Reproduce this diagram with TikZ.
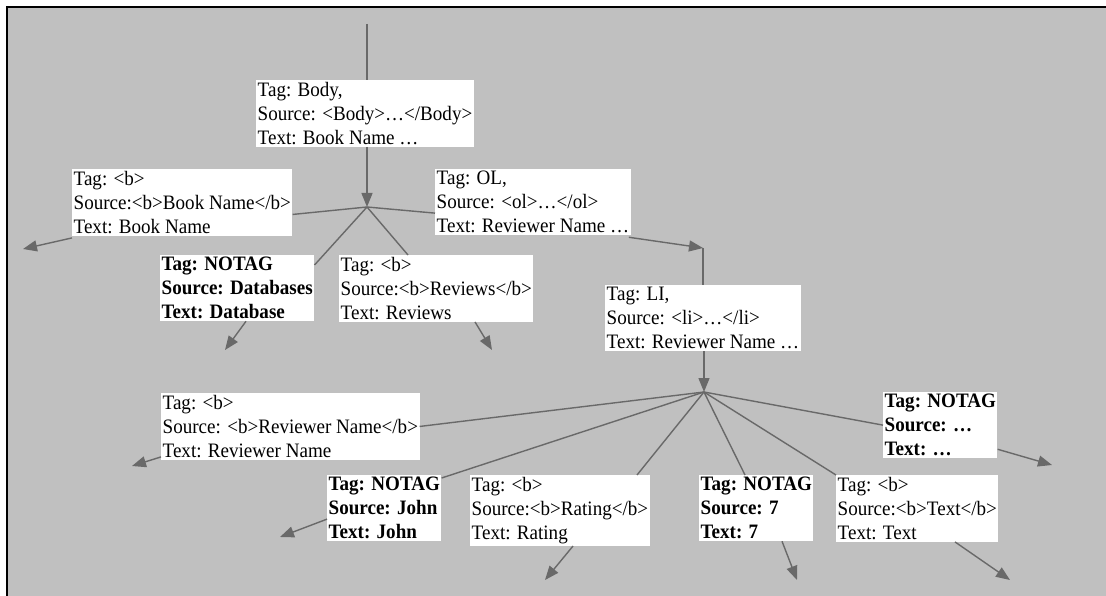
\documentclass[tikz,border=0pt]{standalone}
\usepackage{fontspec}
\setmainfont[FakeStretch=0.93]{Liberation Serif}
\usetikzlibrary{arrows.meta}
\definecolor{bggray}{RGB}{192,192,192}
\definecolor{edgegray}{RGB}{105,105,105}

\begin{document}
\begin{tikzpicture}[x=1pt, y=-1pt, >={Triangle[length=14pt,width=11pt]},
    tagbox/.style={fill=white, anchor=north west, align=left, inner xsep=1.5pt,
        inner ysep=2pt, font=\fontsize{20.5}{24}\selectfont},
    notag/.style={tagbox, font=\fontsize{20.5}{24}\selectfont\bfseries},
    link/.style={draw=edgegray, line width=1.4pt}]

    % frame
    \useasboundingbox (0,0) rectangle (1106,596);
    \fill[bggray] (7,7) rectangle (1106,596);
    \draw[line width=1.5pt] (7,596) -- (7,7) -- (1106,7);

    % junctions and open ends
    \coordinate (top) at (367,24);
    \coordinate (j1) at (367,207);
    \coordinate (j2) at (703,248);
    \coordinate (j3) at (704,392);

    % boxes
    \node[tagbox] (body) at (256,80) {Tag: Body,\\Source: <Body>…</Body>\\Text: Book Name …};
    \node[tagbox] (bname) at (72,169) {Tag: <b>\\Source:<b>Book Name</b>\\Text: Book Name};
    \node[tagbox] (ol) at (435,169) {Tag: OL,\\Source: <ol>…</ol>\\Text: Reviewer Name …};
    \node[notag] (db) at (160,255) {Tag: NOTAG\\Source: Databases\\Text: Database};
    \node[tagbox] (rev) at (339,255) {Tag: <b>\\Source:<b>Reviews</b>\\Text: Reviews};
    \node[tagbox] (li) at (605,285) {Tag: LI,\\Source: <li>…</li>\\Text: Reviewer Name …};
    \node[tagbox] (rname) at (161,393) {Tag: <b>\\Source: <b>Reviewer Name</b>\\Text: Reviewer Name};
    \node[notag] (dots) at (883,392) {Tag: NOTAG\\Source: …\\Text: …};
    \node[notag] (john) at (327,475) {Tag: NOTAG\\Source: John\\Text: John};
    \node[tagbox] (rating) at (470,475) {Tag: <b>\\Source:<b>Rating</b>\\Text: Rating};
    \node[notag] (seven) at (699,475) {Tag: NOTAG\\Source: 7\\Text: 7};
    \node[tagbox] (txt) at (836,475) {Tag: <b>\\Source:<b>Text</b>\\Text: Text};

    % leaf ends
    \coordinate (e1) at (23,249);
    \coordinate (e2) at (225,350);
    \coordinate (e3) at (492,350);
    \coordinate (e4) at (132,466);
    \coordinate (e5) at (280,537);
    \coordinate (e6) at (545,580);
    \coordinate (e7) at (797,580);
    \coordinate (e8) at (1010,580);
    \coordinate (e9) at (1052,465);

    % level 1
    \draw[link] (top) -- (top |- body.north);
    \draw[link,->] (top |- body.south) -- (j1);
    \draw[link] (j1) -- ([yshift=-12pt]bname.east);
    \draw[link] (j1) -- ([yshift=-11pt]ol.west);
    \draw[link] (j1) -- ([yshift=-10pt]db.north east);
    \draw[link] (j1) -- ([xshift=69pt]rev.north west);
    \draw[link,->] ([yshift=-2pt]bname.south west) -- (e1);
    \draw[link,->] ([xshift=86pt]db.south west) -- (e2);
    \draw[link,->] ([xshift=136pt]rev.south west) -- (e3);

    % level 2
    \draw[link,->] ([xshift=-2pt,yshift=-2pt]ol.south east) -- (j2);
    \draw[link] (j2) -- (j2 |- li.north);
    \draw[link,->] (j3 |- li.south) -- (j3);

    % level 3
    \draw[link] (j3) -- (rname.east);
    \draw[link] (j3) -- ([yshift=-3pt]john.north east);
    \draw[link] (j3) -- ([xshift=167pt]rating.north west);
    \draw[link] (j3) -- ([xshift=46pt]seven.north west);
    \draw[link] (j3) -- (txt.north west);
    \draw[link] (j3) -- (dots.west);
    \draw[link,->] ([yshift=3pt]rname.south west) -- (e4);
    \draw[link,->] ([yshift=-11pt]john.west) -- (e5);
    \draw[link,->] ([xshift=103pt]rating.south west) -- (e6);
    \draw[link,->] ([xshift=83pt]seven.south west) -- (e7);
    \draw[link,->] ([xshift=119pt]txt.south west) -- (e8);
    \draw[link,->] ([yshift=9pt]dots.south east) -- (e9);
\end{tikzpicture}
\end{document}
